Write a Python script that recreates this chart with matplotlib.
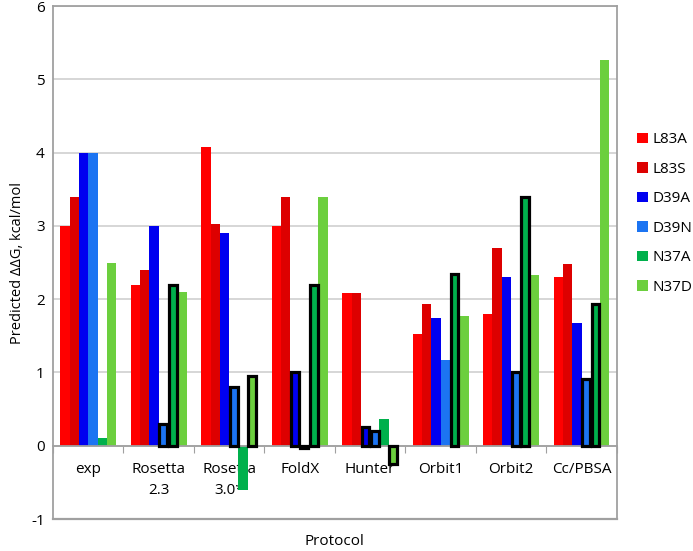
import numpy as np
import matplotlib.pyplot as plt
from matplotlib.patches import Patch

plt.rcParams['font.family'] = ['Open Sans', 'DejaVu Sans']
plt.rcParams['axes.unicode_minus'] = False

# protocols on the x axis
protocols = ['exp', 'Rosetta\n2.3', 'Rosetta\n3.0*', 'FoldX', 'Hunter', 'Orbit1', 'Orbit2', 'Cc/PBSA']

# predicted ddG per mutant (kcal/mol)
L83A = [3.0, 2.2, 4.08, 3.0, 2.08, 1.53, 1.80, 2.30]
L83S = [3.4, 2.4, 3.03, 3.4, 2.08, 1.94, 2.70, 2.48]
D39A = [4.0, 3.0, 2.91, 1.0, 0.26, 1.75, 2.30, 1.67]
D39N = [4.0, 0.3, 0.80, -0.03, 0.20, 1.17, 1.01, 0.91]
N37A = [0.1, 2.2, -0.60, 2.2, 0.36, 2.35, 3.40, 1.93]
N37D = [2.5, 2.1, 0.95, 3.4, -0.25, 1.77, 2.33, 5.27]

# bars drawn with a black outline (1 = outlined)
L83A_box = [0, 0, 0, 0, 0, 0, 0, 0]
L83S_box = [0, 0, 0, 0, 0, 0, 0, 0]
D39A_box = [0, 0, 0, 1, 1, 0, 0, 0]
D39N_box = [0, 1, 1, 1, 1, 0, 1, 1]
N37A_box = [0, 1, 0, 1, 0, 1, 1, 1]
N37D_box = [0, 0, 1, 0, 1, 0, 0, 0]

names = ['L83A', 'L83S', 'D39A', 'D39N', 'N37A', 'N37D']
series = [L83A, L83S, D39A, D39N, N37A, N37D]
boxes = [L83A_box, L83S_box, D39A_box, D39N_box, N37A_box, N37D_box]
colors = ['#FF0000', '#DD0000', '#0000F0', '#1C74F2', '#00B04C', '#6CCF3E']

fig = plt.figure(figsize=(6.93, 5.51), dpi=100)
ax = fig.add_axes([0.0765, 0.058, 0.8135, 0.931])

n = len(protocols)
x = np.arange(n) + 0.5
w = 0.132

for i, (vals, box, c) in enumerate(zip(series, boxes, colors)):
    pos = x + (i - 2.5) * w
    for p, v, b in zip(pos, vals, box):
        if b:
            ax.bar(p, v, w - 0.02, color=c, edgecolor='black', linewidth=2.3, zorder=3)
        else:
            ax.bar(p, v, w, color=c, linewidth=0, zorder=2)

ax.set_xlim(0, n)
ax.set_ylim(-1, 6)
ax.set_yticks(range(-1, 7))
ax.yaxis.grid(True, color='#D0D0D0', linewidth=1.2)
ax.set_axisbelow(True)

# category axis crosses at zero
ax.spines['bottom'].set_position(('data', 0))
for s in ['left', 'right', 'top', 'bottom']:
    ax.spines[s].set_color('#A0A0A0')
    ax.spines[s].set_linewidth(1.3)
ax.plot([0, 1], [0, 0], transform=ax.transAxes, color='#A0A0A0', lw=1.6, clip_on=False)

ax.set_xticks(np.arange(n + 1))
ax.set_xticklabels([])
ax.set_xticks(x, minor=True)
ax.set_xticklabels(protocols, minor=True, fontsize=11, linespacing=1.5)
ax.tick_params(axis='x', which='major', length=5, color='#A0A0A0', direction='out')
ax.tick_params(axis='x', which='minor', length=0, pad=12)
ax.tick_params(axis='y', length=0, labelsize=11, pad=6)

ax.set_ylabel('Predicted ΔΔG, kcal/mol', fontsize=10.5, labelpad=4)
fig.text(0.482, 0.018, 'Protocol', ha='center', va='center', fontsize=11)

handles = [Patch(facecolor=c, label=nm) for c, nm in zip(colors, names)]
fig.legend(handles=handles, loc='upper left', bbox_to_anchor=(0.9, 0.785),
           frameon=False, fontsize=11, handlelength=0.7, handleheight=0.7,
           handletextpad=0.3, labelspacing=0.95)

plt.savefig('out.png', dpi=100)
